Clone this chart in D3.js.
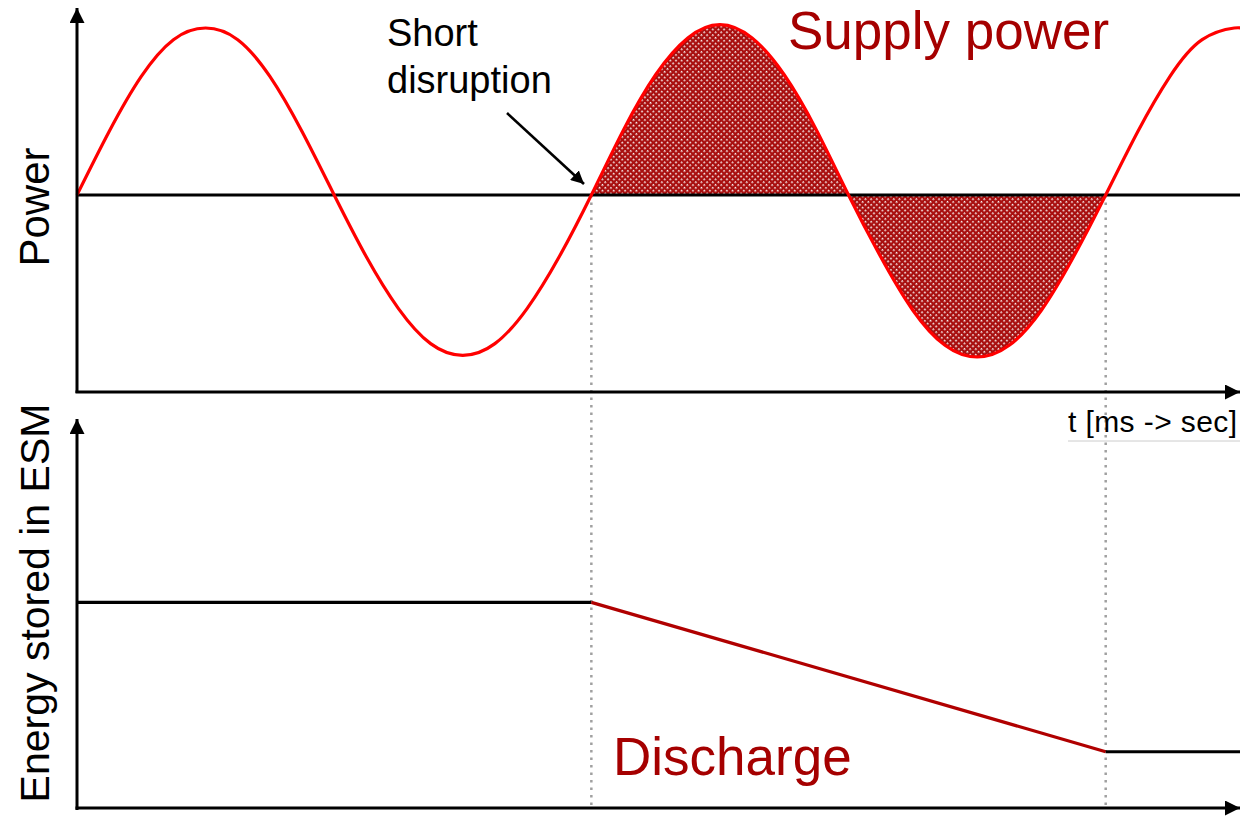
<!DOCTYPE html>
<html><head><meta charset="utf-8">
<script src="https://cdn.jsdelivr.net/npm/d3@7/dist/d3.min.js"></script>
<style>body{margin:0;background:#fff}svg{display:block}</style>
</head><body>
<script>
// ---- data ----
const timeMs = [0,1.25,2.5,3.75,5,6.25,7.5,8.75,10,11.25,12.5,13.75,15,16.25,17.5,18.75,20,21.25,22.5,23.75,25,26.25,27.5,28.75,30,31.25,32.5,33.75,35,36.25,37.5,38.75,40,41.25,42.5,43.75,45,45.3];
const power  = [0,0.38,0.71,0.93,1.0,0.93,0.71,0.38,0,-0.37,-0.68,-0.89,-0.96,-0.89,-0.68,-0.37,0,0.39,0.72,0.94,1.02,0.94,0.72,0.39,0,-0.37,-0.69,-0.9,-0.97,-0.9,-0.69,-0.37,0,0.38,0.71,0.93,1.0,0.99];
const disruptionStart = 20, disruptionEnd = 40;
const energyTime = [0,20,40,45.3];
const energyVal  = [53,53,14.5,14.5];
const labels = {top:"Power", bottom:"Energy stored in ESM", xaxis:"t [ms -> sec]",
  supply:"Supply power", discharge:"Discharge", note:["Short","disruption"]};

const W=1240,H=820;
const svg=d3.select("body").append("svg").attr("width",W).attr("height",H)
  .style("font-family","'Liberation Sans', Arial, sans-serif");
const defs=svg.append("defs");
defs.append("marker").attr("id","ah").attr("viewBox","0 0 10 10").attr("refX",10).attr("refY",5)
  .attr("markerWidth",5).attr("markerHeight",5).attr("markerUnits","strokeWidth").attr("orient","auto")
  .append("path").attr("d","M0,0L10,5L0,10z").attr("fill","#000");
const pat=defs.append("pattern").attr("id","hatch").attr("patternUnits","userSpaceOnUse")
  .attr("width",4).attr("height",4).attr("patternTransform","rotate(45)");
pat.append("rect").attr("width",4).attr("height",4).attr("fill","#a80f0f");
pat.append("rect").attr("x",0).attr("y",0).attr("width",1.6).attr("height",1.6).attr("fill","#fff");

const x=d3.scaleLinear().domain([0,45.3]).range([77,1242]);
const yP=d3.scaleLinear().domain([-1,1]).range([362,28]);
const yE=d3.scaleLinear().domain([0,100]).range([808,420]);

const pts=timeMs.map((t,i)=>({t,p:power[i]}));
// hatched area
const sub=pts.filter(d=>d.t>=disruptionStart&&d.t<=disruptionEnd);
svg.append("path").datum(sub)
  .attr("d",d3.area().x(d=>x(d.t)).y0(yP(0)).y1(d=>yP(d.p)).curve(d3.curveNatural))
  .attr("fill","url(#hatch)");

// dotted verticals
[disruptionStart,disruptionEnd].forEach(t=>{
  svg.append("line").attr("x1",x(t)).attr("x2",x(t)).attr("y1",yP(0)).attr("y2",yE(0))
    .attr("stroke","#a0a0a0").attr("stroke-width",2.5).attr("stroke-dasharray","2.5,5");
});

// zero line
svg.append("line").attr("x1",x(0)).attr("x2",W).attr("y1",yP(0)).attr("y2",yP(0))
  .attr("stroke","#000").attr("stroke-width",2.8);

// sine curve
svg.append("path").datum(pts)
  .attr("d",d3.line().x(d=>x(d.t)).y(d=>yP(d.p)).curve(d3.curveNatural))
  .attr("fill","none").attr("stroke","#ff0000").attr("stroke-width",3.2);

// axes with arrows
function arrow(x1,y1,x2,y2){svg.append("line").attr("x1",x1).attr("y1",y1).attr("x2",x2).attr("y2",y2)
  .attr("stroke","#000").attr("stroke-width",3).attr("marker-end","url(#ah)");}
arrow(x(0),393,x(0),8);
arrow(x(0)-1.5,392,1240,392);
arrow(x(0),810,x(0),419);
arrow(x(0)-1.5,808,1240,808);

// energy line
const e=energyTime.map((t,i)=>({t,v:energyVal[i]}));
const eLine=d3.line().x(d=>x(d.t)).y(d=>yE(d.v));
svg.append("path").datum(e.slice(0,2)).attr("d",eLine).attr("fill","none").attr("stroke","#000").attr("stroke-width",3.2);
svg.append("path").datum(e.slice(1,3)).attr("d",eLine).attr("fill","none").attr("stroke","#b00000").attr("stroke-width",3.2);
svg.append("path").datum(e.slice(2,4)).attr("d",eLine).attr("fill","none").attr("stroke","#000").attr("stroke-width",3.2);

// annotation arrow
svg.append("line").attr("x1",507).attr("y1",113).attr("x2",584).attr("y2",184)
  .attr("stroke","#000").attr("stroke-width",2.6).attr("marker-end","url(#ah)");

// texts
svg.append("text").attr("x",387).attr("y",46).attr("font-size",38).text(labels.note[0]);
svg.append("text").attr("x",387).attr("y",93).attr("font-size",38).text(labels.note[1]);
svg.append("text").attr("x",788).attr("y",49).attr("font-size",53).attr("fill","#a50000").text(labels.supply);
svg.append("text").attr("x",613).attr("y",775).attr("font-size",53).attr("fill","#a50000").text(labels.discharge);
svg.append("text").attr("transform","translate(49,207) rotate(-90)").attr("text-anchor","middle")
  .attr("font-size",42).text(labels.top);
svg.append("text").attr("transform","translate(49,603) rotate(-90)").attr("text-anchor","middle")
  .attr("font-size",41).text(labels.bottom);
svg.append("text").attr("x",1068).attr("y",432).attr("font-size",30).attr("textLength",169).text(labels.xaxis);
svg.append("line").attr("x1",1068).attr("x2",1240).attr("y1",441).attr("y2",441).attr("stroke","#ccc").attr("stroke-width",1);
</script>
</body></html>
